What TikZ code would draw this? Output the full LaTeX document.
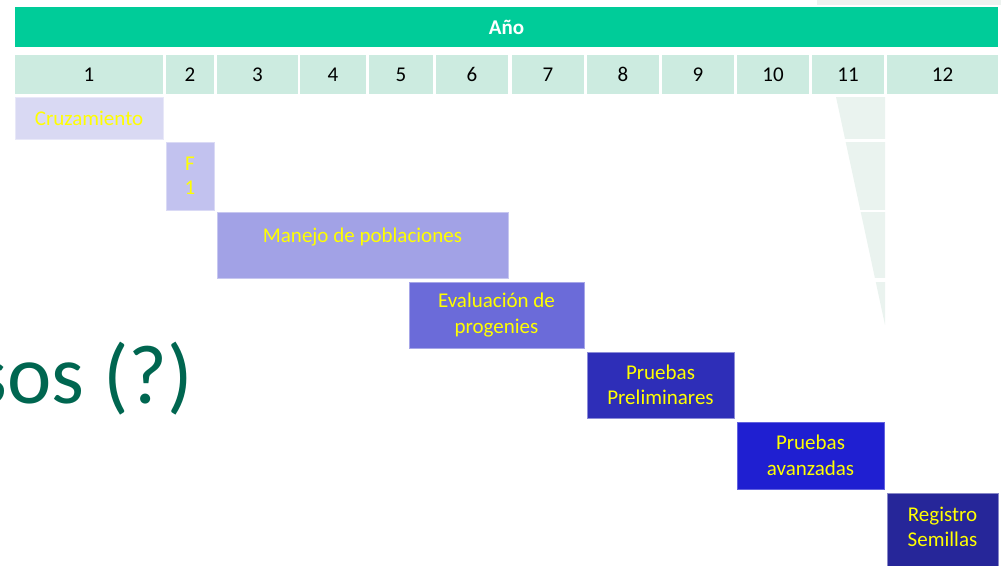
\documentclass[tikz,border=0pt]{standalone}
\usepackage{fontspec}
\setmainfont{Carlito}
\definecolor{hdrgreen}{HTML}{00CC99}
\definecolor{cellgreen}{HTML}{CCEBE0}
\definecolor{bgfaint}{HTML}{EAF3EF}
\definecolor{bgtop}{HTML}{EDF2EF}
\definecolor{cA}{HTML}{D9D9F3}
\definecolor{cB}{HTML}{C2C2EF}
\definecolor{cC}{HTML}{A2A2E6}
\definecolor{cD}{HTML}{6B6BD9}
\definecolor{cE}{HTML}{2E2EB8}
\definecolor{cF}{HTML}{1F1FD1}
\definecolor{cG}{HTML}{262699}
\definecolor{txtyellow}{HTML}{FFFF00}
\definecolor{biggreen}{HTML}{006650}
\begin{document}
\begin{tikzpicture}[x=1pt,y=-1pt,
  cell/.style={fill=cellgreen, inner sep=0pt, minimum height=39pt,
    font=\fontsize{21}{25.5}\selectfont, text=black},
  bar/.style={rectangle, inner sep=0pt, align=center,
    font=\fontsize{21}{25.5}\selectfont, text=txtyellow, line width=0.8pt},
  bigtext/.style={inner sep=0pt, anchor=base west, text=biggreen,
    font=\fontsize{84}{100}\selectfont}]
\useasboundingbox (0,0) rectangle (1001,565);
\clip (0,0) rectangle (1001,565);
% faint slide background
\fill[bgtop] (817,0) rectangle (1001,5);
\fill[bgfaint] (836,97) -- (885,97) -- (885,325) -- cycle;
\fill[white] (830,139) rectangle (886,142);
\fill[white] (830,210) rectangle (886,212);
\fill[white] (830,278) rectangle (886,282);
% header
\node[fill=hdrgreen, inner sep=0pt, minimum width=983pt, minimum height=40pt,
  text=white, font=\fontsize{21}{25}\selectfont\bfseries] (hdr) at (506.5,27)
  {\raisebox{-2pt}{Año}};
% year cells
\foreach \n/\a/\b in {1/15/163, 2/166/214, 3/217/298, 4/300/366, 5/369/433,
    6/436/508, 7/512/584, 8/587/659, 9/662/734, 10/737/809, 11/812/884, 12/887/998}{
  \pgfmathsetmacro\w{\b-\a}
  \pgfmathsetmacro\cx{(\a+\b)/2}
  \node[cell, minimum width=\w pt] (y\n) at (\cx,74.5) {\n};
}
% phase bars
\node[bar, fill=cA, draw=cA!60!white, minimum width=148pt, minimum height=42pt]
  (cruz) at (89,118) {Cruzamiento};
\node[bar, fill=cB, draw=cB!60!white, minimum width=48pt, minimum height=68pt]
  (f1) at (190,176) {F\\[-1.5pt]1};
\node[bar, fill=cC, draw=cC!60!white, minimum width=291pt, minimum height=66pt]
  (manejo) at (362.5,245) {Manejo de poblaciones\\[-6pt]\mbox{}};
\node[bar, fill=cD, draw=cD!60!white, minimum width=175pt, minimum height=66pt]
  (eval) at (496.5,315) {Evaluación de\\progenies};
\node[bar, fill=cE, draw=cE!55!white, minimum width=147pt, minimum height=66pt]
  (prel) at (660.5,385) {Pruebas\\Preliminares};
\node[bar, fill=cF, draw=cF!70!white, minimum width=147pt, minimum height=67pt]
  (avanz) at (810.5,455.5) {Pruebas\\avanzadas};
\node[bar, fill=cG, draw=cG!55!white, minimum width=111pt, minimum height=74pt]
  (reg) at (942.5,530) {Registro\\Semillas\\[-19pt]\mbox{}};
% large title fragment
\node[bigtext] (title) at (-26,403) {sos (?)};
\end{tikzpicture}
\end{document}
